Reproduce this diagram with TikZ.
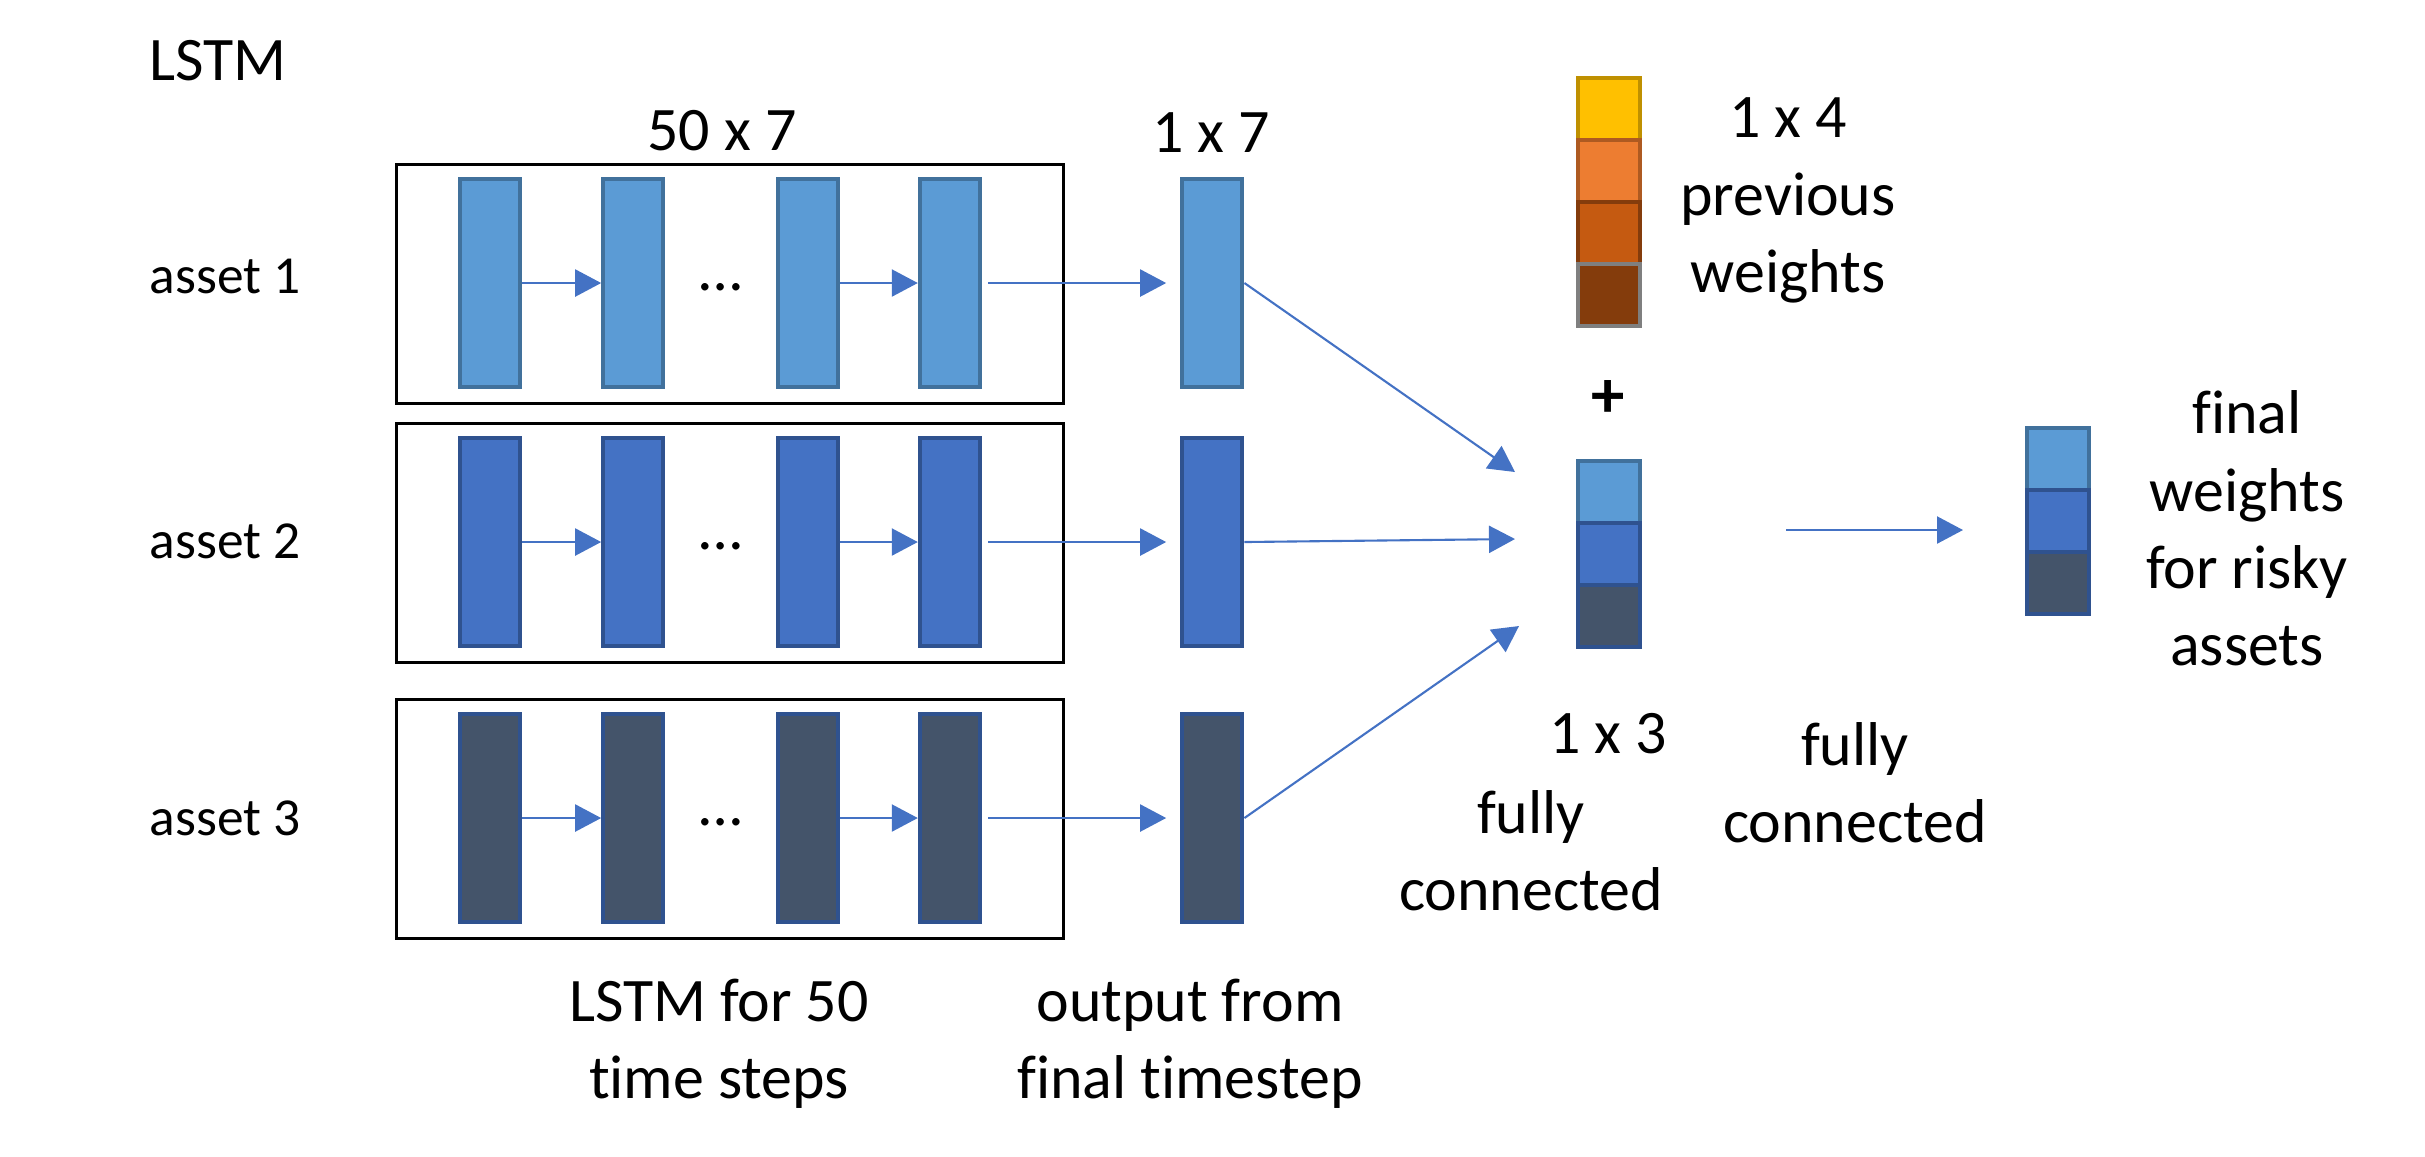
\documentclass[tikz,border=0pt]{standalone}
\usepackage{fontspec}
\setmainfont{Carlito}[Ligatures=NoCommon]
\usetikzlibrary{arrows.meta, positioning, calc}

\definecolor{skyfill}{HTML}{5B9BD5}
\definecolor{skyline}{HTML}{41719C}
\definecolor{bluefill}{HTML}{4472C4}
\definecolor{blueline}{HTML}{2F528F}
\definecolor{slatefill}{HTML}{44546A}
\definecolor{goldfill}{HTML}{FFC000}
\definecolor{goldline}{HTML}{BF9000}
\definecolor{orangefill}{HTML}{ED7D31}
\definecolor{orangeline}{HTML}{AE5A21}
\definecolor{rustfill}{HTML}{C55A11}
\definecolor{rustline}{HTML}{843C0C}
\definecolor{brownfill}{HTML}{843C0C}
\definecolor{brownline}{HTML}{7F7F7F}
\definecolor{arrowblue}{HTML}{4472C4}

\begin{document}
\begin{tikzpicture}[
        x=0.01cm, y=-0.01cm,
        every node/.style={inner sep=0pt},
        annot/.style={font=\fontsize{17.6}{21.9}\selectfont, align=center, anchor=base},
        assetlabel/.style={font=\fontsize{15.2}{18}\selectfont, anchor=base west},
        cell/.style={rectangle, draw, line width=1.2pt, minimum width=0.6cm, minimum height=2.08cm},
        skycell/.style={cell, fill=skyfill, draw=skyline},
        bluecell/.style={cell, fill=bluefill, draw=blueline},
        slatecell/.style={cell, fill=slatefill, draw=blueline},
        lstmbox/.style={rectangle, draw=black, line width=0.9pt, minimum width=6.67cm, minimum height=2.39cm},
        square/.style={rectangle, draw, line width=1.2pt, outer sep=0pt, minimum size=0.62cm},
        flow/.style={-{Triangle[length=7.4pt, width=7.7pt]}, draw=arrowblue, line width=0.6pt}
    ]
        \useasboundingbox (0,0) rectangle (2425,1156);

        % Titlu
        \node[annot, anchor=base west] (title) at (149,80) {LSTM};
        \node[annot] (seqsize) at (722,150) {50 x 7};
        \node[annot] (outsize) at (1211,152) {1 x 7};

        % Randuri LSTM
        \foreach \r/\y/\b/\kind in {1/283/293/skycell, 2/542/558/bluecell, 3/818/835/slatecell} {
            \node[lstmbox] (box\r) at (730,\y+1) {};
            \node[\kind] (c\r1) at (490,\y) {};
            \node[\kind, right=0.79cm of c\r1] (c\r2) {};
            \node[\kind, right=1.1cm of c\r2] (c\r3) {};
            \node[\kind, right=0.78cm of c\r3] (c\r4) {};
            \node[\kind, right=1.98cm of c\r4] (out\r) {};
            \node[font=\fontsize{17.6}{21.9}\selectfont] (dots\r) at ($(c\r2.east)!0.5!(c\r3.west)+(0,4)$) {…};
            \node[assetlabel] (asset\r) at (149,\b) {asset \r};
            \draw[flow] (c\r1) -- (c\r2);
            \draw[flow] (c\r3) -- (c\r4);
            \draw[flow, shorten <=0.06cm, shorten >=0.14cm] (c\r4) -- (out\r);
        }

        % Ponderi anterioare
        \node[square, fill=goldfill, draw=goldline] (pw1) at (1609,109) {};
        \node[square, fill=orangefill, draw=orangeline, below=0pt of pw1] (pw2) {};
        \node[square, fill=rustfill, draw=rustline, below=0pt of pw2] (pw3) {};
        \node[square, fill=brownfill, draw=brownline, below=0pt of pw3] (pw4) {};
        \node[annot] (pwtext) at (1788,292) {1 x 4\\previous\\weights};

        \node[annot, anchor=center, font=\fontsize{19}{22}\selectfont\bfseries] (plus) at (1608,399) {+};

        % Concatenare
        \node[square, fill=skyfill, draw=skyline] (cat1) at (1609,492) {};
        \node[square, fill=bluefill, draw=blueline, below=0pt of cat1] (cat2) {};
        \node[square, fill=slatefill, draw=blueline, below=0pt of cat2] (cat3) {};
        \node[annot] (catsize) at (1608,753) {1 x 3};
        \node[annot] (fc1text) at (1531,910) {fully\\connected};

        \coordinate (tip1) at (1515,472);
        \coordinate (tip2) at (1515,539);
        \coordinate (tip3) at (1519,626);
        \draw[flow] (out1.east) -- (tip1);
        \draw[flow] (out2.east) -- (tip2);
        \draw[flow] (out3.east) -- (tip3);

        % Ponderi finale
        \node[square, fill=skyfill, draw=skyline] (fin1) at (2058,459) {};
        \node[square, fill=bluefill, draw=blueline, below=0pt of fin1] (fin2) {};
        \node[square, fill=slatefill, draw=blueline, below=0pt of fin2] (fin3) {};
        \node[annot] (fintext) at (2247,665) {final\\weights\\for risky\\assets};

        \coordinate (fcfrom) at (1786,530);
        \coordinate (fcto) at (1963,530);
        \draw[flow] (fcfrom) -- (fcto);
        \node[annot] (fc2text) at (1855,842) {fully\\connected};

        % Legende jos
        \node[annot] (lstmtext) at (719,1098) {LSTM for 50\\time steps};
        \node[annot] (outtext) at (1190,1098) {output from\\final timestep};
\end{tikzpicture}
\end{document}
